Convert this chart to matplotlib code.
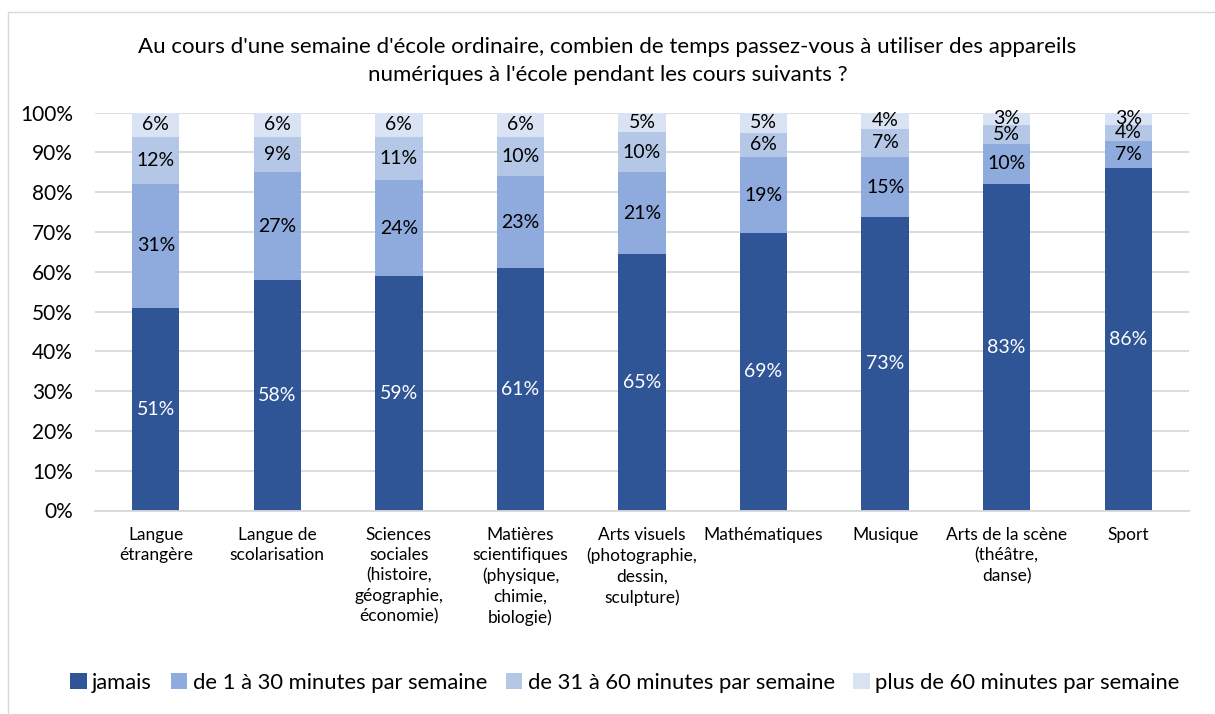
import numpy as np
import matplotlib
matplotlib.use('Agg')
import matplotlib.pyplot as plt
from matplotlib.patches import Rectangle

plt.rcParams['font.family'] = ['Lato', 'DejaVu Sans']

TITLE = "Au cours d'une semaine d'école ordinaire, combien de temps passez-vous à utiliser des appareils\nnumériques à l'école pendant les cours suivants ?"

categories = [
    'Langue\nétrangère',
    'Langue de\nscolarisation',
    'Sciences\nsociales\n(histoire,\ngéographie,\néconomie)',
    'Matières\nscientifiques\n(physique,\nchimie,\nbiologie)',
    'Arts visuels\n(photographie,\ndessin,\nsculpture)',
    'Mathématiques',
    'Musique',
    'Arts de la scène\n(théâtre,\ndanse)',
    'Sport',
]
series_names = [
    'jamais',
    'de 1 à 30 minutes par semaine',
    'de 31 à 60 minutes par semaine',
    'plus de 60 minutes par semaine',
]
jamais = [51, 58, 59, 61, 65, 69, 73, 83, 86]
de_1_30 = [31, 27, 24, 23, 21, 19, 15, 10, 7]
de_31_60 = [12, 9, 11, 10, 10, 6, 7, 5, 4]
plus_60 = [6, 6, 6, 6, 5, 5, 4, 3, 3]

colors = ['#2F5597', '#8FAADC', '#B4C7E7', '#DAE3F3']
label_colors = ['white', 'black', 'black', 'black']

data = np.array([jamais, de_1_30, de_31_60, plus_60], dtype=float)
shares = data / data.sum(axis=0)  # 100% stacked, like the original

fig = plt.figure(figsize=(12.15, 7.14), dpi=100)
fig.patches.append(Rectangle((8 / 1215, -0.05), 1.1, 1 - 12 / 714 + 0.05,
                             transform=fig.transFigure, fill=False,
                             edgecolor='#D9D9D9', linewidth=1))
ax = fig.add_axes([95 / 1215, 1 - 510.5 / 714, (1189 - 95) / 1215, (510.5 - 112.7) / 714])

x = np.arange(len(categories))
bottom = np.zeros(len(categories))
handles = []
for i, name in enumerate(series_names):
    bars = ax.bar(x, shares[i], 0.39, bottom=bottom, color=colors[i], label=name, zorder=2)
    handles.append(bars)
    for j in range(len(categories)):
        ax.text(x[j], bottom[j] + shares[i][j] / 2, '%d%%' % data[i][j],
                ha='center', va='center', fontsize=14, color=label_colors[i], zorder=3)
    bottom += shares[i]

ax.set_xlim(-0.5, len(categories) - 0.5)
ax.set_ylim(0, 1)
ax.set_yticks(np.linspace(0, 1, 11))
ax.set_yticklabels(['%d%%' % v for v in range(0, 101, 10)], fontsize=15)
ax.set_xticks(x)
ax.set_xticklabels(categories, fontsize=12.5, linespacing=1.33, va='top')
ax.tick_params(axis='both', length=0)
ax.tick_params(axis='x', pad=12)
ax.tick_params(axis='y', pad=16)
ax.grid(True, axis='y', color='#D9D9D9', linewidth=1.3, zorder=0)
for s in ['top', 'right', 'left']:
    ax.spines[s].set_visible(False)
ax.spines['bottom'].set_color('#D9D9D9')
ax.spines['bottom'].set_linewidth(1.3)

fig.text(0.5, 1 - 61 / 714, TITLE, ha='center', va='center', fontsize=16, linespacing=1.45)

fig.legend(handles=handles, labels=series_names, loc='center', bbox_to_anchor=(625 / 1215, 1 - 683 / 714),
           ncol=4, frameon=False, fontsize=15.8, handlelength=0.75, handleheight=0.75,
           handletextpad=0.25, columnspacing=0.85)

fig.savefig('out.png', dpi=100)
